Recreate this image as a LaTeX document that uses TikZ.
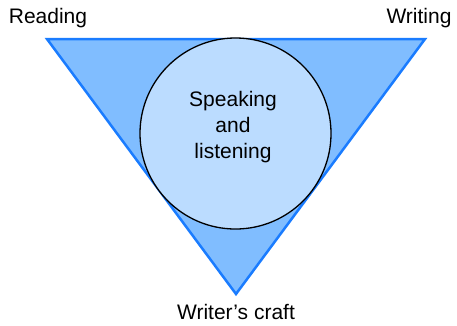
\documentclass[tikz,border=0pt]{standalone}
\usepackage{fontspec}
\setmainfont{Liberation Sans}
\definecolor{triFill}{HTML}{80BDFF}
\definecolor{triLine}{HTML}{1A7CFF}
\definecolor{circFill}{HTML}{BBDCFF}
\tikzset{
  lbl/.style={font=\fontsize{21}{26}\selectfont, text=black, inner sep=0pt},
  tri/.style={fill=triFill, draw=triLine, line width=2.5pt, line join=miter},
  circ/.style={circle, fill=circFill, draw=black, line width=1.3pt, minimum size=191pt, inner sep=0pt}
}
\begin{document}
\begin{tikzpicture}[x=1pt,y=-1pt]
\useasboundingbox (0,0) rectangle (457,325);
\coordinate (tl) at (47,39);
\coordinate (tr) at (425,39);
\coordinate (bt) at (236,294);
\draw[tri] (tl) -- (tr) -- (bt) -- cycle;
\node[circ] (c) at (235.5,133.5) {};
\node[lbl, align=center] (cl) at (233,127) {Speaking\\and\\listening};
\node[lbl] (read) at (48,18) {Reading};
\node[lbl] (writ) at (419,18) {Writing};
\node[lbl] (craft) at (236,312) {Writer’s craft};
\end{tikzpicture}
\end{document}
